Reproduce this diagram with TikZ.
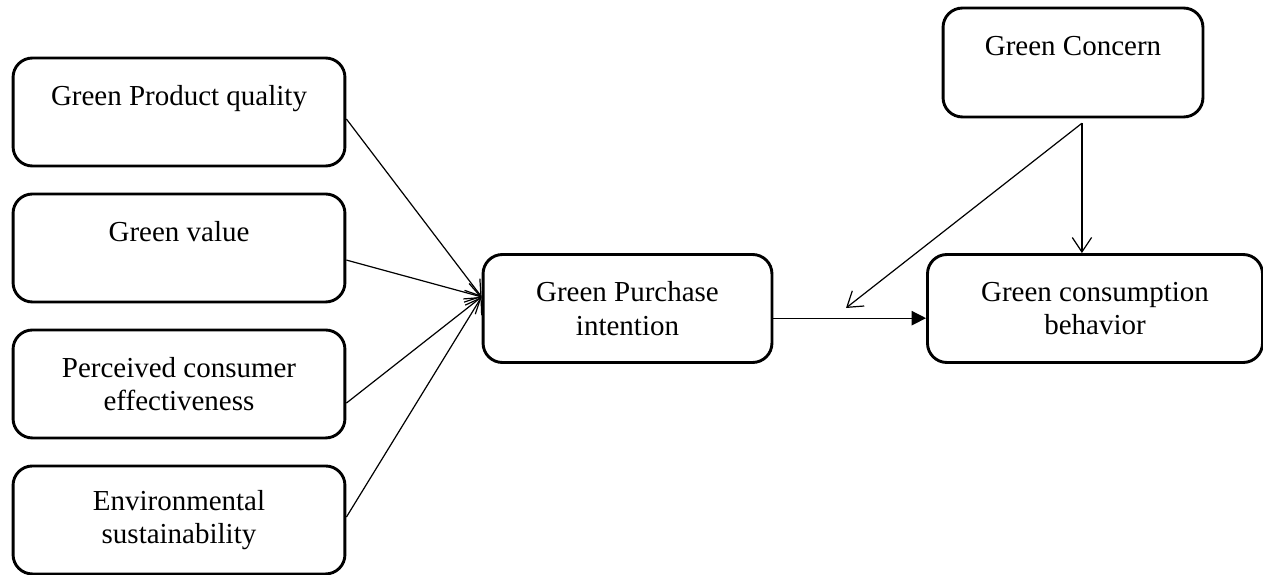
\documentclass[tikz,border=0pt]{standalone}
\usepackage{fontspec}
\setmainfont{Liberation Serif}
\usetikzlibrary{positioning,arrows.meta}

\begin{document}
\begin{tikzpicture}[x=0.414pt,y=-0.414pt,
    caja/.style={draw,line width=1.2pt,rounded corners=8pt,align=center,minimum height=44.7pt,font=\fontsize{12}{13.8}\selectfont},
    flecha/.style={line width=0.5pt,-{Straight Barb[length=6pt,width=8pt]}}] %Coordenadas en pixeles, la y va para abajo
    \useasboundingbox (0,0) rectangle (1263,575); %El marco de la figura

    %Columna de la izquierda (relativas, como siempre)
    \node[caja,minimum width=137.4pt] (gpq) at (179,112) {Green Product quality\\~};
    \node[caja,minimum width=137.4pt,below=10.4pt of gpq] (gv) {Green value\\~};
    \node[caja,minimum width=137.4pt,below=10.4pt of gv] (pce) {Perceived consumer\\effectiveness};
    \node[caja,minimum width=137.4pt,below=10.4pt of pce] (es) {Environmental\\sustainability};

    %Los del medio y la derecha
    \node[caja,minimum width=119.6pt] (gpi) at (627.5,308.5) {Green Purchase\\intention};
    \node[caja,minimum width=138.7pt] (gcb) at (1095,308.5) {Green consumption\\behavior};
    \node[caja,minimum width=107.6pt,minimum height=45.1pt] (gc) at (1073,62.5) {Green Concern\\~};

    \coordinate (gcpie) at ([xshift=3.7pt,yshift=-2pt]gc.south); %De aca salen las dos flechas
    \coordinate (modpunta) at (846,308);

    %Flechas que entran a la intencion
    \draw[flecha] ([yshift=-2.9pt]gpq.east) to ([yshift=4.8pt]gpi.west);
    \draw[flecha] ([yshift=-5pt]gv.east) to ([yshift=4.8pt]gpi.west);
    \draw[flecha] ([yshift=-7.9pt]pce.east) to ([yshift=4.8pt]gpi.west);
    \draw[flecha] ([yshift=1.2pt]es.east) to ([yshift=4.8pt]gpi.west);

    %La del medio con punta rellena
    \draw[line width=0.5pt,-{Triangle[length=6pt,width=6pt]}] ([yshift=-4pt]gpi.east) to ([yshift=-4pt]gcb.west);

    %El moderador
    \draw[flecha] (gcpie) to (gcpie |- gcb.north);
    \draw[flecha] (gcpie) to (modpunta);
\end{tikzpicture}
\end{document}
